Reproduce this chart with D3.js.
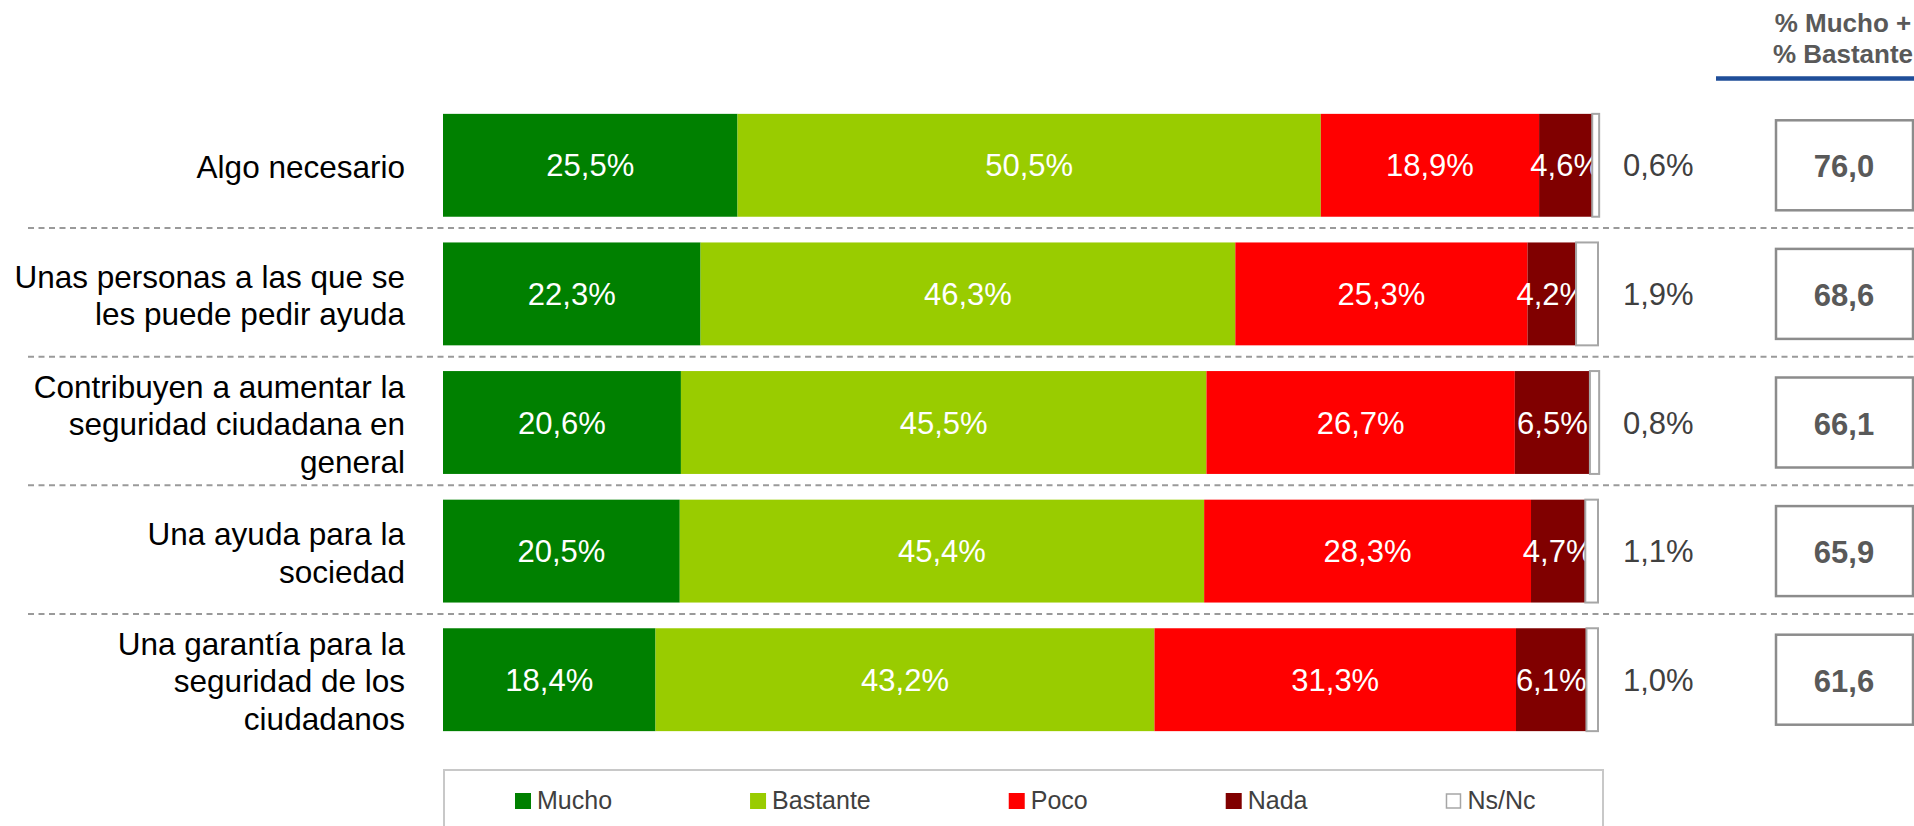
<!DOCTYPE html>
<html>
<head>
<meta charset="utf-8">
<script src="https://cdn.jsdelivr.net/npm/d3@7"></script>
<style>
  body { margin: 0; background: #fff; }
  text { font-family: "Liberation Sans", Arial, sans-serif; }
</style>
</head>
<body>
<script>
// datos
var categorias = [
    ["Algo necesario"],
    ["Unas personas a las que se", "les puede pedir ayuda"],
    ["Contribuyen a aumentar la", "seguridad ciudadana en", "general"],
    ["Una ayuda para la", "sociedad"],
    ["Una garantía para la", "seguridad de los", "ciudadanos"]
];
var mucho    = [25.5, 22.3, 20.6, 20.5, 18.4];
var bastante = [50.5, 46.3, 45.5, 45.4, 43.2];
var poco     = [18.9, 25.3, 26.7, 28.3, 31.3];
var nada     = [4.6, 4.2, 6.5, 4.7, 6.1];
var nsnc     = [0.6, 1.9, 0.8, 1.1, 1.0];
var muchoMasBastante = [76.0, 68.6, 66.1, 65.9, 61.6];

var series  = ["mucho", "bastante", "poco", "nada", "nsnc"];
var leyenda = ["Mucho", "Bastante", "Poco", "Nada", "Ns/Nc"];
var colores = ["#008000", "#99cc00", "#ff0000", "#800000", "#ffffff"];
var cabecera = ["% Mucho +", "% Bastante"];

var width = 1914, height = 826;

var filas = categorias.map(function(c, i) {
    return { idx: i, mucho: mucho[i], bastante: bastante[i], poco: poco[i], nada: nada[i], nsnc: nsnc[i] };
});

var fmt = function(v) { return v.toFixed(1).replace(".", ","); };

var svg = d3.select("body").append("svg")
    .attr("width", width)
    .attr("height", height);

// escalas
var x = d3.scaleLinear().domain([0, 100]).range([443, 1598]);
var y = d3.scaleBand()
    .domain(d3.range(categorias.length))
    .range([101, 744])
    .paddingInner(0.2)
    .paddingOuter(0.1);
var color = d3.scaleOrdinal().domain(series).range(colores);

// lineas discontinuas entre filas
var gap = y.step() - y.bandwidth();
svg.append("g").selectAll("line")
    .data(d3.range(categorias.length - 1))
    .enter().append("line")
    .attr("x1", 28).attr("x2", width)
    .attr("y1", d => y(d) + y.bandwidth() + gap / 2 - 1.5)
    .attr("y2", d => y(d) + y.bandwidth() + gap / 2 - 1.5)
    .attr("stroke", "#9a9a9a")
    .attr("stroke-width", 2)
    .attr("stroke-dasharray", "6,4.5");

// etiquetas de categoria
var fsCat = 31.5, lineH = 37.5;
svg.append("g").selectAll("text")
    .data(categorias)
    .enter().append("text")
    .attr("text-anchor", "end")
    .attr("fill", "#000")
    .style("font-size", fsCat + "px")
    .each(function(lineas, i) {
        var cy = y(i) + y.bandwidth() / 2;
        var n = lineas.length;
        d3.select(this).selectAll("tspan")
            .data(lineas)
            .enter().append("tspan")
            .attr("x", 405)
            .attr("y", (l, j) => cy + fsCat * 0.358 + 1.5 + (j - (n - 1) / 2) * lineH)
            .text(l => l);
    });

// barras apiladas
var stack = d3.stack().keys(series)(filas);

var grupos = svg.append("g").selectAll("g")
    .data(stack.slice(0, 4))
    .enter().append("g")
    .attr("fill", d => color(d.key));

grupos.selectAll("rect")
    .data(d => d)
    .enter().append("rect")
    .attr("x", d => x(d[0]))
    .attr("width", d => x(d[1]) - x(d[0]))
    .attr("y", d => y(d.data.idx))
    .attr("height", y.bandwidth());

// etiquetas dentro de las barras
svg.append("g").selectAll("g")
    .data(stack.slice(0, 4))
    .enter().append("g")
    .selectAll("text")
    .data(d => d.map(p => ({ p: p, v: p.data[d.key] })))
    .enter().append("text")
    .attr("x", d => (x(d.p[0]) + x(d.p[1])) / 2)
    .attr("y", d => y(d.p.data.idx) + y.bandwidth() / 2 + 31 * 0.358)
    .attr("text-anchor", "middle")
    .attr("fill", "#fff")
    .style("font-size", "31px")
    .text(d => fmt(d.v) + "%");

// Ns/Nc encima
svg.append("g").selectAll("rect")
    .data(stack[4])
    .enter().append("rect")
    .attr("x", d => x(d[0]))
    .attr("width", d => x(d[1]) - x(d[0]))
    .attr("y", d => y(d.data.idx))
    .attr("height", y.bandwidth())
    .attr("fill", "#fff")
    .attr("stroke", "#a6a6a6")
    .attr("stroke-width", 2);

svg.append("g").selectAll("text")
    .data(nsnc)
    .enter().append("text")
    .attr("x", x(100) + 25)
    .attr("y", (d, i) => y(i) + y.bandwidth() / 2 + 31 * 0.358)
    .attr("fill", "#404040")
    .style("font-size", "31px")
    .text(d => fmt(d) + "%");

// columna % Mucho + % Bastante
var cxCol = 1844;
svg.append("g").selectAll("text")
    .data(cabecera)
    .enter().append("text")
    .attr("x", cxCol - 1)
    .attr("y", (d, i) => 32 + i * 30.5)
    .attr("text-anchor", "middle")
    .attr("fill", "#595959")
    .style("font-size", "26px")
    .style("font-weight", "bold")
    .text(d => d);

svg.append("line")
    .attr("x1", 1716).attr("x2", width)
    .attr("y1", 78.5).attr("y2", 78.5)
    .attr("stroke", "#1f4e99")
    .attr("stroke-width", 4.5);

var cajas = svg.append("g").selectAll("g")
    .data(muchoMasBastante)
    .enter().append("g");

cajas.append("rect")
    .attr("x", 1776)
    .attr("width", 137)
    .attr("y", (d, i) => y(i) + y.bandwidth() / 2 - 45)
    .attr("height", 90)
    .attr("fill", "#fff")
    .attr("stroke", "#8c8c8c")
    .attr("stroke-width", 2.5);

cajas.append("text")
    .attr("x", cxCol)
    .attr("y", (d, i) => y(i) + y.bandwidth() / 2 + 31 * 0.358 + 1)
    .attr("text-anchor", "middle")
    .attr("fill", "#595959")
    .style("font-size", "31px")
    .style("font-weight", "bold")
    .text(d => fmt(d));

// leyenda
svg.append("rect")
    .attr("x", 444).attr("y", 770)
    .attr("width", 1159).attr("height", 90)
    .attr("fill", "none")
    .attr("stroke", "#c8c8c8")
    .attr("stroke-width", 2);

var leg = svg.append("g");
var posX = 515;
leyenda.forEach(function(nombre, i) {
    var it = leg.append("g").attr("transform", "translate(" + posX + ",0)");
    it.append("rect")
        .attr("x", i === 4 ? 1 : 0).attr("y", i === 4 ? 794 : 793)
        .attr("width", i === 4 ? 14 : 16).attr("height", i === 4 ? 14 : 16)
        .attr("fill", colores[i])
        .attr("stroke", i === 4 ? "#a6a6a6" : "none")
        .attr("stroke-width", 1.5);
    var t = it.append("text")
        .attr("x", 22).attr("y", 809)
        .attr("fill", "#404040")
        .style("font-size", "25px")
        .text(nombre);
    posX += 22 + t.node().getComputedTextLength() + 138;
});
</script>
</body>
</html>
